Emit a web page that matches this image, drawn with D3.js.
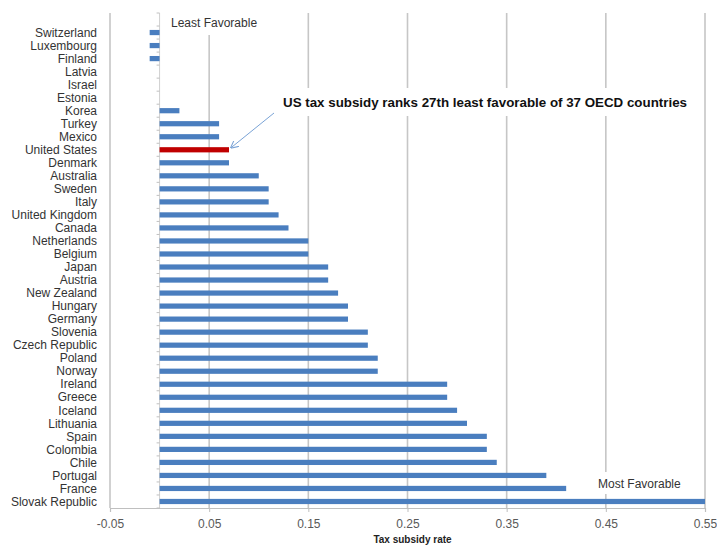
<!DOCTYPE html>
<html>
<head>
<meta charset="utf-8">
<script src="https://cdn.jsdelivr.net/npm/d3@7/dist/d3.min.js"></script>
<style>
  html, body { margin: 0; padding: 0; background: #fff; }
  svg { display: block; }
  text { font-family: "Liberation Sans", Arial, sans-serif; }
</style>
</head>
<body>
<div id="chart"></div>
<script>
const countries = ["Switzerland","Luxembourg","Finland","Latvia","Israel","Estonia","Korea","Turkey","Mexico","United States","Denmark","Australia","Sweden","Italy","United Kingdom","Canada","Netherlands","Belgium","Japan","Austria","New Zealand","Hungary","Germany","Slovenia","Czech Republic","Poland","Norway","Ireland","Greece","Iceland","Lithuania","Spain","Colombia","Chile","Portugal","France","Slovak Republic"];
const rates = [-0.01,-0.01,-0.01,0,0,0,0.02,0.06,0.06,0.07,0.07,0.10,0.11,0.11,0.12,0.13,0.15,0.15,0.17,0.17,0.18,0.19,0.19,0.21,0.21,0.22,0.22,0.29,0.29,0.30,0.31,0.33,0.33,0.34,0.39,0.41,0.55];
const xTicks = [-0.05,0.05,0.15,0.25,0.35,0.45,0.55];
const xTickLabels = ["-0.05","0.05","0.15","0.25","0.35","0.45","0.55"];
const highlight = "United States";
const xTitle = "Tax subsidy rate";
const noteText = "US tax subsidy ranks 27th least favorable of 37 OECD countries";
const topLabel = "Least Favorable";
const bottomLabel = "Most Favorable";

const W = 717, H = 548;
const plot = {left: 110, right: 705, top: 13, bottom: 508};

const svg = d3.select("#chart").append("svg").attr("width", W).attr("height", H);

const x = d3.scaleLinear().domain([-0.05, 0.55]).range([plot.left, plot.right]);
const step = (plot.bottom - plot.top) / (countries.length + 1);
const y = d3.scaleBand().domain(countries)
  .range([plot.top + step, plot.bottom]).paddingInner(0.6).paddingOuter(0.3);

const gridColor = "#c6c6c6";

// gridlines
svg.append("g").selectAll("line").data(xTicks).join("line")
  .attr("x1", d => x(d)).attr("x2", d => x(d))
  .attr("y1", plot.top).attr("y2", plot.bottom)
  .attr("stroke", gridColor).attr("stroke-width", 1.6);

// bottom axis
const xAxis = d3.axisBottom(x).tickValues(xTicks)
  .tickFormat((d, i) => xTickLabels[i]).tickSize(4).tickPadding(7);
const gx = svg.append("g").attr("transform", `translate(0,${plot.bottom})`).call(xAxis);
gx.select(".domain").attr("stroke", "#bfbfbf").attr("stroke-width", 1.2);
gx.selectAll(".tick line").attr("stroke", "#bfbfbf");
gx.selectAll(".tick text").attr("fill", "#595959").style("font-size", "12px");

// x title
svg.append("text").attr("x", x(0.25) + 5).attr("y", 543).attr("text-anchor", "middle")
  .style("font-size", "10px").style("font-weight", "bold").attr("fill", "#222")
  .text(xTitle);

// zero axis with category ticks
const zx = x(0);
svg.append("line").attr("x1", zx).attr("x2", zx).attr("y1", plot.top).attr("y2", plot.bottom)
  .attr("stroke", "#d0d0d0").attr("stroke-width", 1);
const boundaries = d3.range(countries.length + 2).map(i => plot.top + i * step);
svg.append("g").selectAll("line").data(boundaries).join("line")
  .attr("x1", zx - 3).attr("x2", zx).attr("y1", d => d).attr("y2", d => d)
  .attr("stroke", "#c0c0c0").attr("stroke-width", 1);

// bars
svg.append("g").selectAll("rect").data(countries).join("rect")
  .attr("x", (d, i) => x(Math.min(0, rates[i])))
  .attr("width", (d, i) => Math.abs(x(rates[i]) - x(0)))
  .attr("y", d => y(d))
  .attr("height", y.bandwidth())
  .attr("fill", d => d === highlight ? "#c00000" : "#4a7ebf");

// category labels
svg.append("g").selectAll("text").data(countries).join("text")
  .attr("x", 97).attr("y", d => y(d) + y.bandwidth() / 2)
  .attr("dy", "0.35em").attr("text-anchor", "end")
  .style("font-size", "12px").attr("fill", "#333")
  .text(d => d);

// text boxes with white background
function box(cx, cy, w, h) {
  svg.append("rect").attr("x", cx).attr("y", cy).attr("width", w).attr("height", h).attr("fill", "#fff");
}
box(166, 13, 94, 22);
svg.append("text").attr("x", 171).attr("y", 27).style("font-size", "12px").attr("fill", "#333").text(topLabel);

box(592, 472, 96, 22);
svg.append("text").attr("x", 598).attr("y", 488).style("font-size", "12px").attr("fill", "#333").text(bottomLabel);

box(277, 88, 420, 28);
svg.append("text").attr("x", 283).attr("y", 107).style("font-size", "12.5px").style("font-weight", "bold")
  .attr("fill", "#111").attr("textLength", 404).attr("lengthAdjust", "spacingAndGlyphs").text(noteText);

// arrow
const usIdx = countries.indexOf(highlight);
const ax2 = x(rates[usIdx]) + 2, ay2 = y(highlight) + y.bandwidth() / 2 - 2;
svg.append("defs").append("marker").attr("id", "arr").attr("viewBox", "0 0 10 10")
  .attr("refX", 9).attr("refY", 5).attr("markerWidth", 8).attr("markerHeight", 8).attr("orient", "auto")
  .append("path").attr("d", "M0,0 L10,5 L0,10").attr("fill", "none").attr("stroke", "#7aa3d6").attr("stroke-width", 1.3);
svg.append("line").attr("x1", 274).attr("y1", 113).attr("x2", ax2).attr("y2", ay2)
  .attr("stroke", "#7aa3d6").attr("stroke-width", 1).attr("marker-end", "url(#arr)");
</script>
</body>
</html>
